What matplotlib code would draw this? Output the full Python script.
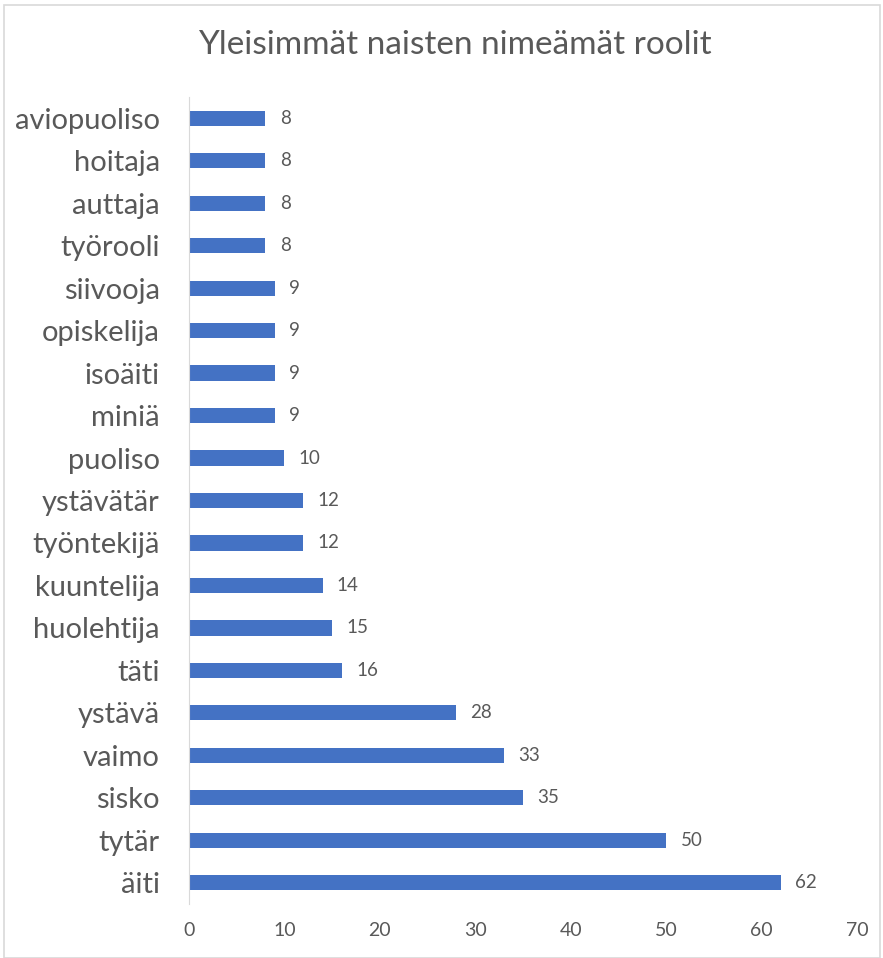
import matplotlib
matplotlib.use('Agg')
import matplotlib.pyplot as plt
from matplotlib.patches import Rectangle

plt.rcParams['font.family'] = ['Lato', 'DejaVu Sans']

# data, top to bottom as in the chart
roles = ['aviopuoliso', 'hoitaja', 'auttaja', 'työrooli', 'siivooja', 'opiskelija',
         'isoäiti', 'miniä', 'puoliso', 'ystävätär', 'työntekijä', 'kuuntelija',
         'huolehtija', 'täti', 'ystävä', 'vaimo', 'sisko', 'tytär', 'äiti']
counts = [8, 8, 8, 8, 9, 9, 9, 9, 10, 12, 12, 14, 15, 16, 28, 33, 35, 50, 62]
x_ticks = [0, 10, 20, 30, 40, 50, 60, 70]

text_col = '#595959'
fig = plt.figure(figsize=(8.83, 9.58), dpi=100, facecolor='white')
ax = fig.add_axes([0.214, 0.0564, 0.7566, 0.8423])

pos = list(range(len(roles)))
ax.barh(pos, counts, height=0.36, color='#4472C4')
ax.set_ylim(len(roles) - 0.5, -0.5)
ax.set_xlim(0, 70)
ax.set_yticks(pos)
ax.set_yticklabels(roles, fontsize=21, color=text_col)
ax.set_xticks(x_ticks)
ax.set_xticklabels([str(t) for t in x_ticks], fontsize=14, color=text_col)
ax.tick_params(length=0)
ax.tick_params(axis='y', pad=21)
ax.tick_params(axis='x', pad=13)

for s in ['top', 'right', 'bottom']:
    ax.spines[s].set_visible(False)
ax.spines['left'].set_color('#D9D9D9')

for p, c in zip(pos, counts):
    ax.text(c + 1.5, p, str(c), va='center', ha='left', fontsize=13.5, color=text_col)

fig.text(0.515, 0.953, 'Yleisimmät naisten nimeämät roolit', ha='center', va='center',
         fontsize=24, color=text_col)

# light chart border
fig.patches.append(Rectangle((0.004, 0.0), 0.993, 0.995, transform=fig.transFigure,
                             fill=False, edgecolor='#D9D9D9', linewidth=1.2))

fig.savefig('out.png', dpi=100)
